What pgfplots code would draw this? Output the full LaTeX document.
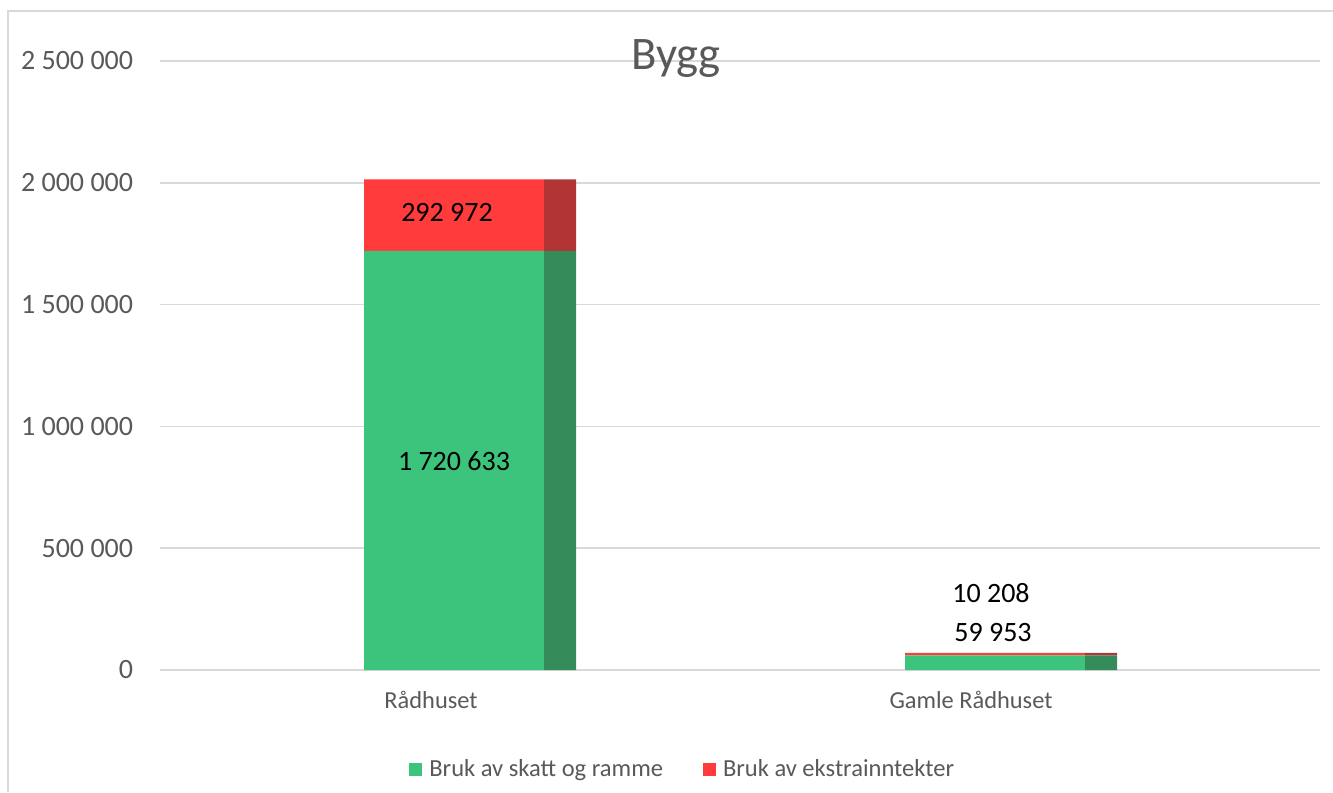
\documentclass[border=0pt]{standalone}
\usepackage{pgfplots}
\pgfplotsset{compat=1.18}
\usepackage{fontspec}
\setmainfont{Carlito}
\definecolor{grn}{RGB}{60,196,124}
\definecolor{grnd}{RGB}{53,140,90}
\definecolor{rd}{RGB}{255,59,59}
\definecolor{rdd}{RGB}{179,52,52}
\definecolor{gridc}{RGB}{217,217,217}
\definecolor{txtgray}{RGB}{89,89,89}
\begin{document}
\begin{tikzpicture}[x=0.75pt,y=0.75pt]
\useasboundingbox (0,0) rectangle (1333,792);
\draw[color=gridc, line width=1.2pt] (8,0) -- (8,781) -- (1333,781);
\begin{axis}[
  at={(120pt,91.5pt)}, anchor=south west,
  scale only axis, width=870pt, height=456.75pt,
  xmin=0, xmax=1160, ymin=0, ymax=2500000,
  ybar stacked, bar width=180,
  axis line style={draw=none},
  major tick length=0pt,
  scaled y ticks=false,
  ymajorgrids, grid style={gridc, line width=1.1pt},
  ytick={0,500000,1000000,1500000,2000000,2500000},
  yticklabels={0,500~000,1~000~000,1~500~000,2~000~000,2~500~000},
  xtick={271,811},
  xticklabels={Rådhuset,Gamle Rådhuset},
  yticklabel style={font=\fontsize{21}{24}\selectfont, text=txtgray, anchor=east, inner sep=0pt, xshift=-20pt},
  xticklabel style={font=\fontsize{18.3}{22}\selectfont, text=txtgray, anchor=base, inner sep=0pt, yshift=-28.5pt},
  legend style={at={(0.4509,-0.1626)}, anchor=center, draw=none,
    font=\fontsize{18.4}{22}\selectfont, text=txtgray,
    /tikz/every even column/.append style={column sep=28pt}},
  legend columns=2,
  legend image code/.code={\fill[#1] (0pt,-4.9pt) rectangle (9.75pt,4.85pt); \path (13pt,0pt);},
  clip=false,
]
\addplot[fill=grn, draw=none] coordinates {(294,1720633) (835,59953)};
\addlegendentry{Bruk av skatt og ramme}
\addplot[fill=rd, draw=none] coordinates {(294,292972) (835,10208)};
\addlegendentry{Bruk av ekstrainntekter}
\end{axis}
\begin{axis}[
  at={(120pt,91.5pt)}, anchor=south west,
  scale only axis, width=870pt, height=456.75pt,
  xmin=0, xmax=1160, ymin=0, ymax=2500000,
  ybar stacked, bar width=32,
  hide axis, clip=false,
]
\addplot[fill=grnd, draw=none] coordinates {(400,1720633) (941,59953)};
\addplot[fill=rdd, draw=none] coordinates {(400,292972) (941,10208)};
\node[font=\fontsize{21}{24}\selectfont, text=black] at (axis cs:287,1880131) {292~972};
\node[font=\fontsize{21}{24}\selectfont, text=black] at (axis cs:294,857964) {1~720~633};
\node[font=\fontsize{21}{24}\selectfont, text=black] at (axis cs:831,316092) {10~208};
\node[font=\fontsize{21}{24}\selectfont, text=black] at (axis cs:833,151888) {59~953};
\end{axis}
\node[anchor=base, font=\fontsize{35}{40}\selectfont, text=txtgray] at (676,722) {Bygg};
\end{tikzpicture}
\end{document}
